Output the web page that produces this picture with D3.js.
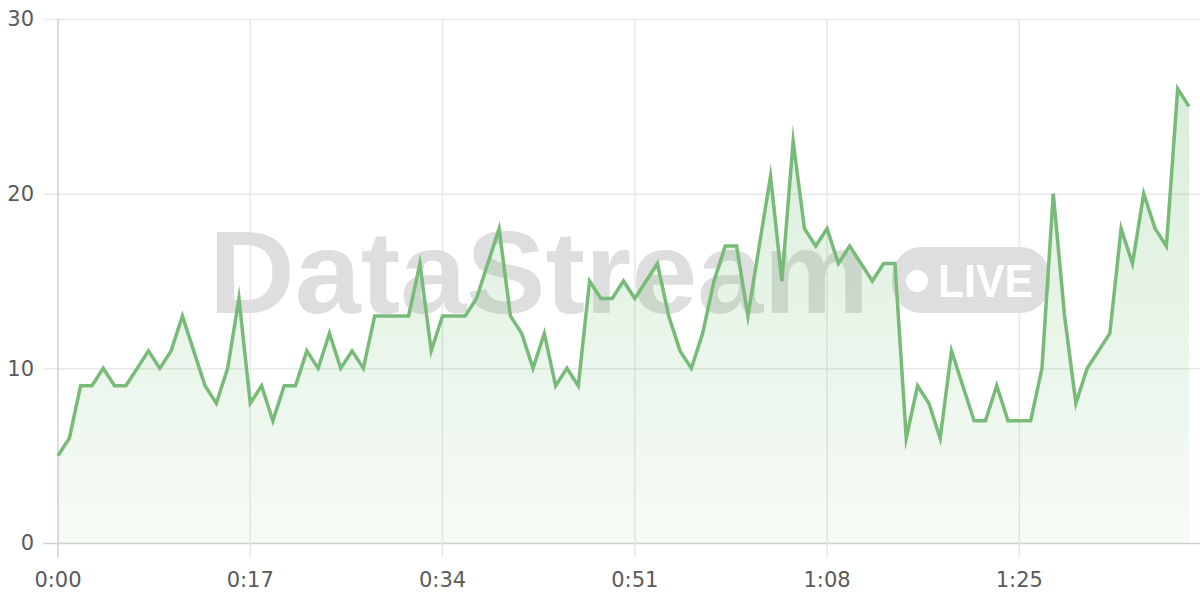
<!DOCTYPE html>
<html>
<head>
<meta charset="utf-8">
<script src="https://cdn.jsdelivr.net/npm/d3@7"></script>
<style>
  html, body { margin: 0; padding: 0; background: #fff; }
  svg { display: block; }
</style>
</head>
<body>
<svg id="chart" width="1200" height="600"></svg>
<script>
// ---- data ----
const seconds = d3.range(0, 101);
const values = [
  5, 6, 9, 9, 10, 9, 9, 10, 11, 10,
  11, 13, 11, 9, 8, 10, 14, 8, 9, 7,
  9, 9, 11, 10, 12, 10, 11, 10, 13, 13,
  13, 13, 16, 11, 13, 13, 13, 14, 16, 18,
  13, 12, 10, 12, 9, 10, 9, 15, 14, 14,
  15, 14, 15, 16, 13, 11, 10, 12, 15, 17,
  17, 13, 17, 21, 15, 23, 18, 17, 18, 16,
  17, 16, 15, 16, 16, 6, 9, 8, 6, 11,
  9, 7, 7, 9, 7, 7, 7, 10, 20, 13,
  8, 10, 11, 12, 18, 16, 20, 18, 17, 26,
  25
];
const xTicks = [0, 17, 34, 51, 68, 85];
const xTickLabels = ["0:00", "0:17", "0:34", "0:51", "1:08", "1:25"];
const yTicks = [0, 10, 20, 30];
const watermarkText = "DataStream";
const badgeText = "LIVE";

// ---- layout ----
const svg = d3.select("#chart");
const W = 1200, H = 600;
const x = d3.scaleLinear().domain([0, 100]).range([58, 1189]);
const y = d3.scaleLinear().domain([0, 30]).range([543, 19]);

const font = "'Liberation Sans', Arial, sans-serif";
const labelFont = "'DejaVu Sans', sans-serif";

// gradient
const defs = svg.append("defs");
const grad = defs.append("linearGradient")
  .attr("id", "fillGrad").attr("gradientUnits", "userSpaceOnUse")
  .attr("x1", 0).attr("x2", 0).attr("y1", y(30)).attr("y2", y(0));
grad.append("stop").attr("offset", "0%").attr("stop-color", "rgb(76,175,80)").attr("stop-opacity", 0.24);
grad.append("stop").attr("offset", "100%").attr("stop-color", "rgb(76,175,80)").attr("stop-opacity", 0.05);

// horizontal grid
svg.append("g").selectAll("line").data(yTicks).join("line")
  .attr("x1", 43).attr("x2", W)
  .attr("y1", d => y(d) + 0.5).attr("y2", d => y(d) + 0.5)
  .attr("stroke", d => d === 0 ? "#d0d0d0" : "#e8e8e8").attr("stroke-width", 1.5);

// vertical grid
svg.append("g").selectAll("line").data(xTicks).join("line")
  .attr("x1", d => x(d)).attr("x2", d => x(d))
  .attr("y1", y(30)).attr("y2", 558)
  .attr("stroke", d => d === 0 ? "#d0d0d0" : "#e8e8e8").attr("stroke-width", 1.5);

// watermark
svg.append("text")
  .attr("x", 209).attr("y", 313)
  .attr("font-family", font).attr("font-weight", "bold")
  .attr("font-size", 116)
  .attr("textLength", 660).attr("lengthAdjust", "spacingAndGlyphs")
  .attr("fill", "#dedede")
  .text(watermarkText);

// badge
const badge = svg.append("g");
badge.append("rect")
  .attr("x", 892).attr("y", 247).attr("width", 158).attr("height", 66)
  .attr("rx", 30).attr("fill", "#dedede");
badge.append("circle").attr("cx", 917).attr("cy", 281).attr("r", 11).attr("fill", "#fff");
badge.append("text")
  .attr("x", 938).attr("y", 297)
  .attr("font-family", font).attr("font-weight", "bold").attr("font-size", 46)
  .attr("textLength", 95).attr("lengthAdjust", "spacingAndGlyphs")
  .attr("fill", "#fff").text(badgeText);

// area
const area = d3.area().x((d, i) => x(seconds[i])).y0(y(0)).y1(d => y(d));
svg.append("path").datum(values)
  .attr("d", area).attr("fill", "url(#fillGrad)");

// line
const line = d3.line().x((d, i) => x(seconds[i])).y(d => y(d));
svg.append("path").datum(values)
  .attr("d", line).attr("fill", "none")
  .attr("stroke", "#78bb78").attr("stroke-width", 3.5)
  .attr("stroke-linejoin", "miter").attr("stroke-miterlimit", 10);

// y labels
svg.append("g").selectAll("text").data(yTicks).join("text")
  .attr("x", 34).attr("y", d => y(d))
  .attr("dy", "0.35em").attr("text-anchor", "end")
  .attr("font-family", labelFont).attr("font-size", 21).attr("fill", "#5a5a5a")
  .text(d => d);

// x labels
svg.append("g").selectAll("text").data(xTicks).join("text")
  .attr("x", d => x(d)).attr("y", 580)
  .attr("dy", "0.35em").attr("text-anchor", "middle")
  .attr("font-family", labelFont).attr("font-size", 21).attr("fill", "#5a5a5a")
  .text((d, i) => xTickLabels[i]);
</script>
</body>
</html>
